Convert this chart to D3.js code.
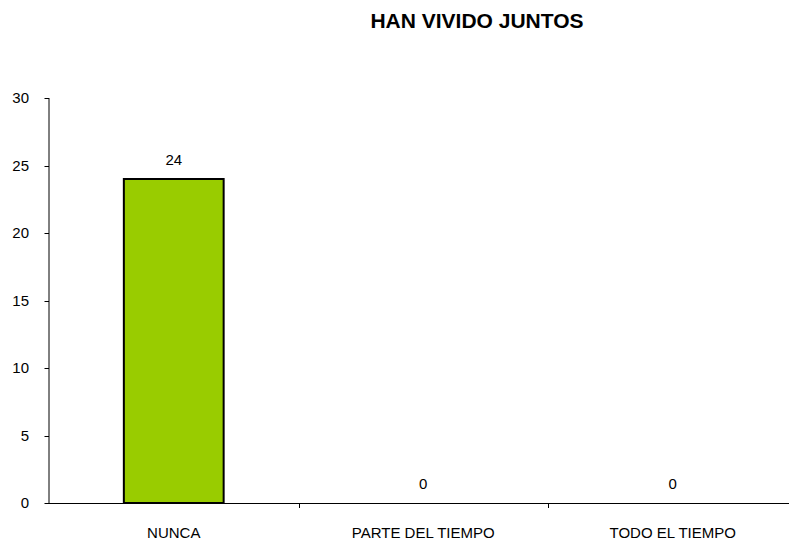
<!DOCTYPE html>
<html><head><meta charset="utf-8">
<script src="https://cdn.jsdelivr.net/npm/d3@7"></script>
<style>html,body{margin:0;padding:0;background:#fff;overflow:hidden}svg{display:block}text{font-family:"Liberation Sans",Arial,sans-serif}</style>
</head><body>
<svg id="c" width="789" height="543"></svg>
<script>
const title = "HAN VIVIDO JUNTOS";
const categories = ["NUNCA", "PARTE DEL TIEMPO", "TODO EL TIEMPO"];
const values = [24, 0, 0];
const yTicks = [0, 5, 10, 15, 20, 25, 30];

const svg = d3.select("#c");
const x = d3.scaleBand().domain(categories).range([49, 797.5]).paddingInner(0.6).paddingOuter(0.3);
const xb = d3.scaleBand().domain(categories).range([49, 797.5]);
const y = d3.scaleLinear().domain([0, 30]).range([503, 98]);

svg.append("text").attr("x", 477).attr("y", 28).attr("text-anchor", "middle")
  .attr("font-size", 21).attr("font-weight", "bold").text(title);

// y axis
const ya = svg.append("g");
ya.append("line").attr("x1", 49).attr("x2", 49).attr("y1", y(30)).attr("y2", y(0)).attr("stroke", "#000");
ya.selectAll("line.t").data(yTicks).enter().append("line").attr("class","t")
  .attr("x1", 44.5).attr("x2", 49).attr("y1", d => Math.round(y(d))+0.5).attr("y2", d => Math.round(y(d))+0.5).attr("stroke", "#000");
ya.selectAll("text").data(yTicks).enter().append("text")
  .attr("x", 29).attr("y", d => y(d)).attr("dy", "0.36em").attr("text-anchor", "end")
  .attr("font-size", 15).text(d => d);

// bars
svg.selectAll("rect.bar").data(values).enter().append("rect").attr("class","bar")
  .attr("x", (d,i) => x(categories[i]))
  .attr("width", x.bandwidth())
  .attr("y", d => y(d))
  .attr("height", d => y(0) - y(d))
  .attr("fill", "#99CC00").attr("stroke", "#000").attr("stroke-width", 2)
  .attr("display", d => d > 0 ? null : "none");

// x axis
svg.append("line").attr("x1", 49).attr("x2", 800).attr("y1", 503.5).attr("y2", 503.5).attr("stroke", "#000");
svg.selectAll("line.xt").data(categories.slice(1)).enter().append("line").attr("class","xt")
  .attr("x1", d => Math.round(xb(d))+0.5).attr("x2", d => Math.round(xb(d))+0.5).attr("y1", 503.5).attr("y2", 508).attr("stroke", "#000");
svg.selectAll("text.cat").data(categories).enter().append("text").attr("class","cat")
  .attr("x", d => xb(d) + xb.bandwidth()/2).attr("y", 538).attr("text-anchor", "middle")
  .attr("font-size", 15).text(d => d);

// value labels
svg.selectAll("text.val").data(values).enter().append("text").attr("class","val")
  .attr("x", (d,i) => xb(categories[i]) + xb.bandwidth()/2).attr("y", d => y(d) - 14.5)
  .attr("text-anchor", "middle").attr("font-size", 15).text(d => d);
</script>
</body></html>
